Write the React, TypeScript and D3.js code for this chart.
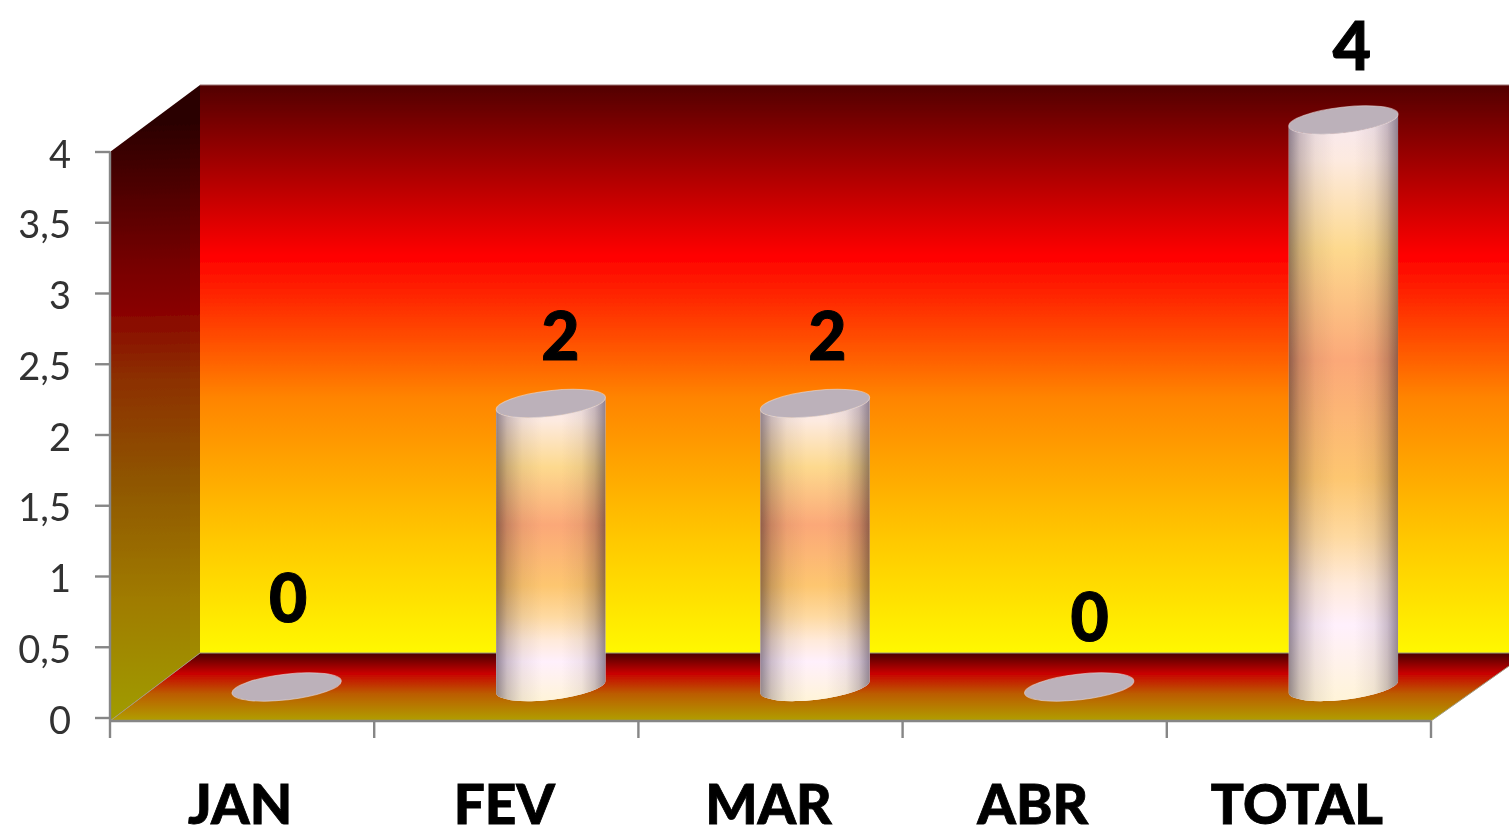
import React from "react";
import * as d3 from "d3";

const categories = ["JAN", "FEV", "MAR", "ABR", "TOTAL"];
const values = [0, 2, 2, 0, 4];
const yTicks = [0, 0.5, 1, 1.5, 2, 2.5, 3, 3.5, 4];
const labelDx = [1, 9, 12, 10, 8];
const labelDy = [-89, -67, -67, -70, -74];

const W = 1509, H = 829;
const left = 110, right = 1431, front = 718, axisY = 721, topY = 152;
const depthX = 90;
const backTop = 85, backBottom = 653;

const x = d3.scaleBand<string>().domain(categories).range([left, right]).padding(0);
const y = d3.scaleLinear().domain([0, 4]).range([front, topY]);
const barY = d3.scaleLinear().domain([0, 4]).range([687, 120]);
const fmt = (v: number) => String(v).replace(".", ",");

const RX = 55, RY = 12.8, TILT = -6.5;
const rad = (TILT * Math.PI) / 180;
const ex = RX * Math.cos(rad), ey = RX * Math.sin(rad);

function cylPath(cx: number, top: number, base: number) {
  return `M${cx - ex},${top - ey}L${cx - ex},${base - ey}A${RX},${RY} ${TILT} 0 0 ${cx + ex},${base + ey}L${cx + ex},${top + ey}A${RX},${RY} ${TILT} 0 1 ${cx - ex},${top - ey}Z`;
}

const FONT = "Lato, 'Open Sans', sans-serif";

export default function App() {
  return (
    <svg width={W} height={H} viewBox={`0 0 ${W} ${H}`} style={{ position: "fixed", left: 0, top: 0, background: "#fff" }}>
      <defs>
        <filter id="soft" x="-2%" y="-2%" width="104%" height="104%"><feGaussianBlur stdDeviation="0.7" /></filter>
        <filter id="softer" x="-10%" y="-10%" width="120%" height="120%"><feGaussianBlur stdDeviation="0.5" /></filter>
        <linearGradient id="back" gradientUnits="userSpaceOnUse" x1="0" x2="0" y1={backTop} y2={backBottom}>
          <stop offset="0" stopColor="#520505" />
          <stop offset="0.3" stopColor="#ff0000" />
          <stop offset="0.55" stopColor="#ff8400" />
          <stop offset="0.8" stopColor="#ffc800" />
          <stop offset="1" stopColor="#fff800" />
        </linearGradient>
        <linearGradient id="wall" gradientUnits="userSpaceOnUse" x1="140" x2="150" y1="125" y2="720">
          <stop offset="0" stopColor="#2c0202" />
          <stop offset="0.24" stopColor="#780000" />
          <stop offset="0.32" stopColor="#8a0600" />
          <stop offset="0.42" stopColor="#8c2e00" />
          <stop offset="0.6" stopColor="#8f5600" />
          <stop offset="0.8" stopColor="#a07c00" />
          <stop offset="1" stopColor="#a09c00" />
        </linearGradient>
        <linearGradient id="floor" gradientUnits="userSpaceOnUse" x1="0" x2="0" y1={backBottom} y2={axisY}>
          <stop offset="0" stopColor="#4a0400" />
          <stop offset="0.3" stopColor="#c80000" />
          <stop offset="0.6" stopColor="#bc5c00" />
          <stop offset="1" stopColor="#b0a000" />
        </linearGradient>
        <linearGradient id="bodyV" x1="0" x2="0" y1="0" y2="1">
          <stop offset="0" stopColor="#f7e8f3" />
          <stop offset="0.08" stopColor="#fdeadf" />
          <stop offset="0.23" stopColor="#fdd98e" />
          <stop offset="0.42" stopColor="#fba878" />
          <stop offset="0.62" stopColor="#fdc670" />
          <stop offset="0.72" stopColor="#fed9a0" />
          <stop offset="0.8" stopColor="#ffeada" />
          <stop offset="0.87" stopColor="#fff0fc" />
          <stop offset="1" stopColor="#fff4d8" />
        </linearGradient>
        <linearGradient id="bodyH" x1="0" x2="1" y1="0" y2="0">
          <stop offset="0" stopColor="#948e9c" />
          <stop offset="0.1" stopColor="#ccc8ce" />
          <stop offset="0.24" stopColor="#f0eff0" />
          <stop offset="0.42" stopColor="#ffffff" />
          <stop offset="0.6" stopColor="#ffffff" />
          <stop offset="0.78" stopColor="#f0eff0" />
          <stop offset="0.9" stopColor="#ccc8ce" />
          <stop offset="1" stopColor="#948e9c" />
        </linearGradient>
      </defs>

      <g filter="url(#soft)">
        <rect x={left + depthX} y={backTop} width={W - left - depthX + 10} height={backBottom - backTop} fill="url(#back)" />
        <path d={`M${left},${topY}L${left + depthX},${backTop}V${backBottom}L${left},${axisY}Z`} fill="url(#wall)" />
        <path d={`M${left},${axisY}L${left + depthX},${backBottom}H${W + 10}V${backBottom + 6}L${right},${axisY}Z`} fill="url(#floor)" stroke="#a09a80" strokeWidth="1" />
        <line x1={left + depthX} x2={W} y1={backTop} y2={backTop} stroke="#9c7070" strokeWidth="1" />
      </g>

      <g stroke="#868686" strokeWidth="2.4" filter="url(#softer)">
        <line x1={left} x2={left} y1={topY} y2={axisY} />
        <line x1={left} x2={right} y1={axisY} y2={axisY} />
        {yTicks.map((t) => <line key={t} x1={95} x2={left} y1={y(t)} y2={y(t)} />)}
        {[...categories.map((c) => x(c) as number), right].map((px) => <line key={px} x1={px} x2={px} y1={axisY} y2={738} />)}
      </g>

      {yTicks.map((t) => (
        <text key={t} x={71} y={y(t) + 2} dy="0.36em" textAnchor="end" fontFamily={FONT} fontSize={38} fill="#333" filter="url(#softer)">{fmt(t)}</text>
      ))}

      {categories.map((c, i) => {
        const cx = (x(c) as number) + x.bandwidth() / 2 + depthX / 2 - 0.5;
        const top = barY(values[i]), base = barY(0);
        return (
          <g key={c} filter="url(#softer)">
            {values[i] > 0 && (
              <g style={{ isolation: "isolate" }}>
                <path d={cylPath(cx, top, base)} fill="url(#bodyV)" />
                <path d={cylPath(cx, top, base)} fill="url(#bodyH)" style={{ mixBlendMode: "multiply" }} />
              </g>
            )}
            <ellipse cx={cx} cy={top} rx={RX} ry={RY} transform={`rotate(${TILT} ${cx} ${top})`} fill="#bcb1ba" stroke="#e8dcdc" strokeOpacity="0.6" strokeWidth="1" />
          </g>
        );
      })}

      {categories.map((c, i) => {
        const cx = (x(c) as number) + x.bandwidth() / 2 + depthX / 2;
        return (
          <text key={c} x={cx + labelDx[i]} y={barY(values[i]) + labelDy[i]} dy="0.36em" textAnchor="middle" fontFamily={FONT} fontWeight={900} fontSize={66} fill="#000" stroke="#000" strokeWidth="1" filter="url(#softer)">{values[i]}</text>
        );
      })}

      {categories.map((c) => (
        <text key={c} x={(x(c) as number) + x.bandwidth() / 2 - 2} y={824} textAnchor="middle" fontFamily={FONT} fontWeight={900} fontSize={55} fill="#000" stroke="#000" strokeWidth="0.8" filter="url(#softer)">{c}</text>
      ))}
    </svg>
  );
}
